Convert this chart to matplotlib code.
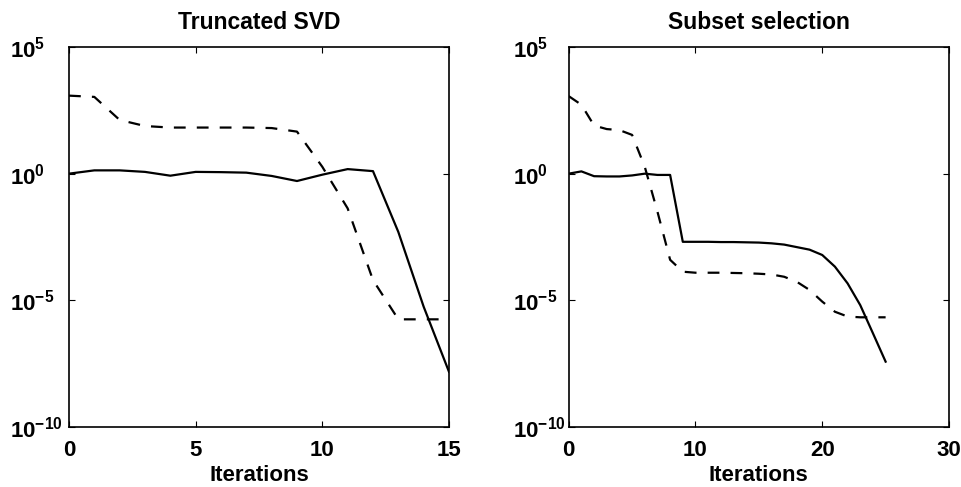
import numpy as np
import matplotlib
matplotlib.use("Agg")
import matplotlib.pyplot as plt

plt.rcParams["font.family"] = ["Liberation Sans", "DejaVu Sans"]
plt.rcParams["font.weight"] = "bold"
plt.rcParams["mathtext.fontset"] = "custom"
plt.rcParams["mathtext.bf"] = "Liberation Sans:bold"
plt.rcParams["mathtext.rm"] = "Liberation Sans:bold"
plt.rcParams["mathtext.default"] = "bf"
plt.rcParams["lines.scale_dashes"] = False

# Truncated SVD (log10 of the values)
tsvd_iter = np.arange(16)
tsvd_solid = [0.0, 0.13, 0.13, 0.07, -0.08, 0.07, 0.06, 0.04, -0.09, -0.29,
              -0.04, 0.18, 0.10, -2.30, -5.25, -7.82]
tsvd_dashed = [3.08, 3.03, 2.12, 1.88, 1.82, 1.82, 1.82, 1.82, 1.80, 1.66,
               0.27, -1.37, -4.20, -5.75, -5.75, -5.75]

# Subset selection (log10 of the values)
ss_iter = np.arange(26)
ss_solid = [0.0, 0.09, -0.10, -0.11, -0.11, -0.07, 0.0, -0.05, -0.05, -2.69,
            -2.69, -2.69, -2.70, -2.70, -2.71, -2.72, -2.75, -2.80, -2.90, -3.00,
            -3.21, -3.67, -4.33, -5.19, -6.30, -7.42]
ss_dashed = [3.06, 2.72, 1.90, 1.76, 1.72, 1.53, 0.27, -1.50, -3.40, -3.87,
             -3.91, -3.91, -3.91, -3.92, -3.93, -3.95, -3.98, -4.07, -4.27, -4.59,
             -5.05, -5.45, -5.64, -5.67, -5.67, -5.67]

titles = ["Truncated SVD", "Subset selection"]
xlims = [(0, 15), (0, 30)]
xticks = [[0, 5, 10, 15], [0, 10, 20, 30]]
yticks = [1e5, 1e0, 1e-5, 1e-10]
ytick_labels = [r"$10^{5}$", r"$10^{0}$", r"$10^{-5}$", r"$10^{-10}$"]

fig = plt.figure(figsize=(9.61, 4.87), dpi=100)
ax1 = fig.add_axes([0.0718, 0.1232, 0.3954, 0.7803])
ax2 = fig.add_axes([0.5918, 0.1232, 0.3957, 0.7803])

data = [(tsvd_iter, tsvd_solid, tsvd_dashed), (ss_iter, ss_solid, ss_dashed)]
ypads = [42.5, 40.0]  # labels are left aligned, like the original
for ax, (it, solid, dashed), title, xl, xt, yp in zip([ax1, ax2], data, titles,
                                                       xlims, xticks, ypads):
    ax.semilogy(it, 10.0 ** np.array(solid), color="black", lw=1.6)
    ax.semilogy(it, 10.0 ** np.array(dashed), color="black", lw=1.6,
                linestyle=(0, (8.5, 8.0)))
    ax.set_xlim(*xl)
    ax.set_ylim(1e-10, 1e5)
    ax.set_xticks(xt)
    ax.set_xticklabels([str(v) for v in xt])
    ax.set_yticks(yticks)
    ax.set_yticklabels(ytick_labels, ha="left")
    ax.minorticks_off()
    ax.tick_params(direction="in", top=True, right=True, length=4, width=0.8,
                   labelsize=16)
    ax.tick_params(axis="x", pad=9)
    ax.tick_params(axis="y", pad=yp)
    for s in ax.spines.values():
        s.set_linewidth(1.2)
    ax.set_title(title, fontsize=16.5, fontweight="bold", pad=13)
    ax.set_xlabel("Iterations", fontsize=16, fontweight="bold", labelpad=3)

fig.savefig("out.png", dpi=100)
